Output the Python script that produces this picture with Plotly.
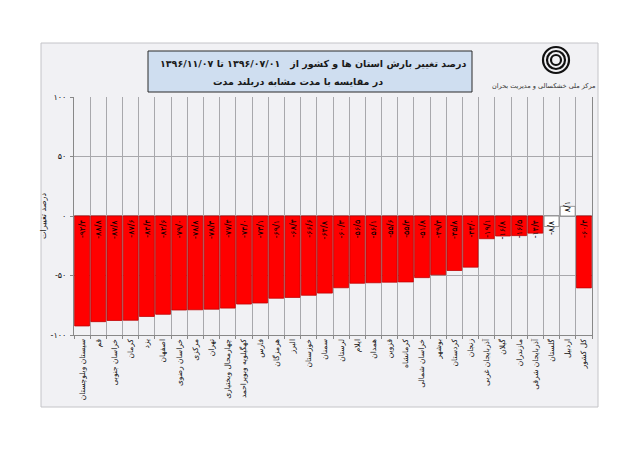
import plotly.graph_objects as go

# استان ها (چپ به راست)
provinces = [
    'سیستان وبلوچستان', 'قم', 'خراسان جنوبی', 'کرمان', 'یزد', 'اصفهان',
    'خراسان رضوی', 'مرکزی', 'تهران', 'چهارمحال وبختیاری', 'کهگیلویه وبویراحمد',
    'فارس', 'هرمزگان', 'البرز', 'خوزستان', 'سمنان', 'لرستان', 'ایلام', 'همدان',
    'قزوین', 'کرمانشاه', 'خراسان شمالی', 'بوشهر', 'کردستان', 'زنجان',
    'آذربایجان غربی', 'گیلان', 'مازندران', 'آذربایجان شرقی', 'گلستان', 'اردبیل',
    'کل کشور',
]
change_pct = [
    -92.4, -88.8, -87.8, -87.6, -84.4, -82.6, -79.0, -78.8, -78.3, -77.4, -74.0,
    -73.1, -69.1, -68.4, -66.6, -64.8, -60.3, -56.5, -56.1, -55.6, -55.4, -51.8,
    -49.4, -45.8, -43.0, -19.1, -16.8, -16.5, -14.4, -8.8, 8.1, -60.4,
]
y_ticks = [-100, -50, 0, 50, 100]

FA = str.maketrans('0123456789.', '۰۱۲۳۴۵۶۷۸۹/')


def fa_num(v, dec=1):
    s = f'{abs(v):.{dec}f}'
    s = s.translate(FA)
    return ('-' + s) if v < 0 else s


FONT = 'DejaVu Sans'
W, H = 640, 452
OFF = 8  # page margin of the browser
# plot area in screen pixels: x 74..592, y 97..335
L = 74 - OFF
R = W - (592 - OFF)
T = 97 - OFF
B = H - (335 - OFF)


def px(x):
    return (x - OFF - L) / (W - L - R)


def py(y):
    return (H - B - (y - OFF)) / (H - T - B)


colors = ['#ffffff' if abs(v) < 10 else '#ff0000' for v in change_pct]
edges = ['#808080' if abs(v) < 10 else '#c00000' for v in change_pct]

fig = go.Figure()
fig.add_trace(go.Bar(
    x=provinces, y=change_pct,
    marker=dict(color=colors, line=dict(color=edges, width=0.8)),
    hoverinfo='x+y',
))

annotations = []
for p, v in zip(provinces, change_pct):
    annotations.append(dict(
        x=p, y=0, xref='x', yref='y', text=fa_num(v), showarrow=False,
        textangle=-90, yanchor='top' if v < 0 else 'bottom',
        yshift=-2 if v < 0 else 2,
        font=dict(family=FONT, size=8, color='#000000'),
    ))

# عنوان
annotations.append(dict(
    x=px(468), y=py(64), xref='paper', yref='paper', xanchor='right', yanchor='middle',
    text='<b>درصد تغییر بارش استان ها و کشور از   ۱۳۹۶/۰۷/۰۱ تا ۱۳۹۶/۱۱/۰۷</b>',
    showarrow=False, font=dict(family=FONT, size=9.5, color='#1a1a1a'),
))
annotations.append(dict(
    x=px(298), y=py(82), xref='paper', yref='paper', xanchor='center', yanchor='middle',
    text='<b>در مقایسه با مدت مشابه دربلند مدت</b>',
    showarrow=False, font=dict(family=FONT, size=9.5, color='#1a1a1a'),
))
annotations.append(dict(
    x=px(598), y=py(86), xref='paper', yref='paper', xanchor='right', yanchor='middle',
    text='مرکز ملی خشکسالی و مدیریت بحران',
    showarrow=False, font=dict(family=FONT, size=6.5, color='#333333'),
))

shapes = [
    # قاب نمودار
    dict(type='rect', xref='paper', yref='paper', layer='below',
         x0=px(41), x1=px(598), y0=py(407), y1=py(43),
         fillcolor='#f1f1f4', line=dict(color='#c4c4c8', width=1)),
    # کادر عنوان
    dict(type='rect', xref='paper', yref='paper',
         x0=px(148), x1=px(472), y0=py(92), y1=py(51),
         fillcolor='#cfdef0', line=dict(color='#2b2b2b', width=1)),
]
# لوگو
for r in (13, 9, 5):
    shapes.append(dict(type='circle', xref='paper', yref='paper',
                       x0=px(556 - r), x1=px(556 + r), y0=py(60 + r), y1=py(60 - r),
                       line=dict(color='#111111', width=2.2)))

fig.update_layout(
    width=W, height=H,
    margin=dict(l=L, r=R, t=T, b=B),
    paper_bgcolor='#ffffff', plot_bgcolor='#f6f6f8',
    showlegend=False, bargap=0.08,
    font=dict(family=FONT, size=8, color='#222222'),
    annotations=annotations, shapes=shapes,
    xaxis=dict(
        type='category', tickangle=-90, tickson='boundaries',
        showgrid=True, gridcolor='#a8a8ac', gridwidth=1,
        ticks='outside', ticklen=3, tickcolor='#888888',
        showline=True, linecolor='#888888',
        tickfont=dict(family=FONT, size=7.5, color='#111111'),
    ),
    yaxis=dict(
        range=[-100, 100], tickvals=y_ticks,
        ticktext=[fa_num(v, 0) for v in y_ticks],
        showgrid=True, gridcolor='#a8a8ac', zeroline=True, zerolinecolor='#a8a8ac',
        ticks='outside', ticklen=3, tickcolor='#888888', ticklabelstandoff=2,
        showline=True, linecolor='#888888', mirror=True,
        tickfont=dict(family=FONT, size=8, color='#111111'),
        title=dict(text='درصد تغییرات', font=dict(family=FONT, size=8, color='#111111'),
                   standoff=2),
    ),
)

fig.write_html('out.html')
